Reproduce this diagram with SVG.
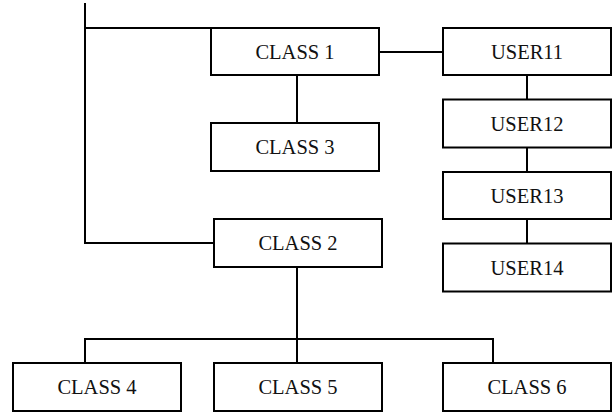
<svg xmlns="http://www.w3.org/2000/svg" width="612" height="415" viewBox="0 0 612 415">
<style>
.box{fill:#fff;stroke:#000;stroke-width:2}
.lbl{font-family:"Liberation Serif","Times New Roman",serif;font-size:20.5px;fill:#111;text-anchor:middle}
.con{fill:none;stroke:#000;stroke-width:2}
</style>
<rect width="612" height="415" fill="#fff"/>
<g id="connectors">
<path class="con" d="M85,3 V243 H214"/>
<path class="con" d="M85,28 H211"/>
<path class="con" d="M297,75 V123"/>
<path class="con" d="M379,52 H443"/>
<path class="con" d="M527,75 V99.5"/>
<path class="con" d="M527,147.5 V172"/>
<path class="con" d="M527,219 V243.5"/>
<path class="con" d="M297,267 V363"/>
<path class="con" d="M85,363 V339 H493 V363"/>
</g>
<g id="class1"><rect class="box" x="211" y="28" width="168" height="47"/><text class="lbl" x="295" y="59">CLASS 1</text></g>
<g id="class3"><rect class="box" x="211" y="123" width="168" height="48"/><text class="lbl" x="295" y="154">CLASS 3</text></g>
<g id="class2"><rect class="box" x="214" y="219" width="168" height="48"/><text class="lbl" x="298" y="250">CLASS 2</text></g>
<g id="user11"><rect class="box" x="443" y="28" width="168" height="47"/><text class="lbl" x="527" y="59">USER11</text></g>
<g id="user12"><rect class="box" x="443" y="99.5" width="168" height="48"/><text class="lbl" x="527" y="131">USER12</text></g>
<g id="user13"><rect class="box" x="443" y="172" width="168" height="47"/><text class="lbl" x="527" y="203">USER13</text></g>
<g id="user14"><rect class="box" x="443" y="243.5" width="168" height="48"/><text class="lbl" x="527" y="275">USER14</text></g>
<g id="class4"><rect class="box" x="13" y="363" width="168" height="48"/><text class="lbl" x="97" y="394">CLASS 4</text></g>
<g id="class5"><rect class="box" x="214" y="363" width="168" height="48"/><text class="lbl" x="298" y="394">CLASS 5</text></g>
<g id="class6"><rect class="box" x="443" y="363" width="168" height="48"/><text class="lbl" x="527" y="394">CLASS 6</text></g>
</svg>
